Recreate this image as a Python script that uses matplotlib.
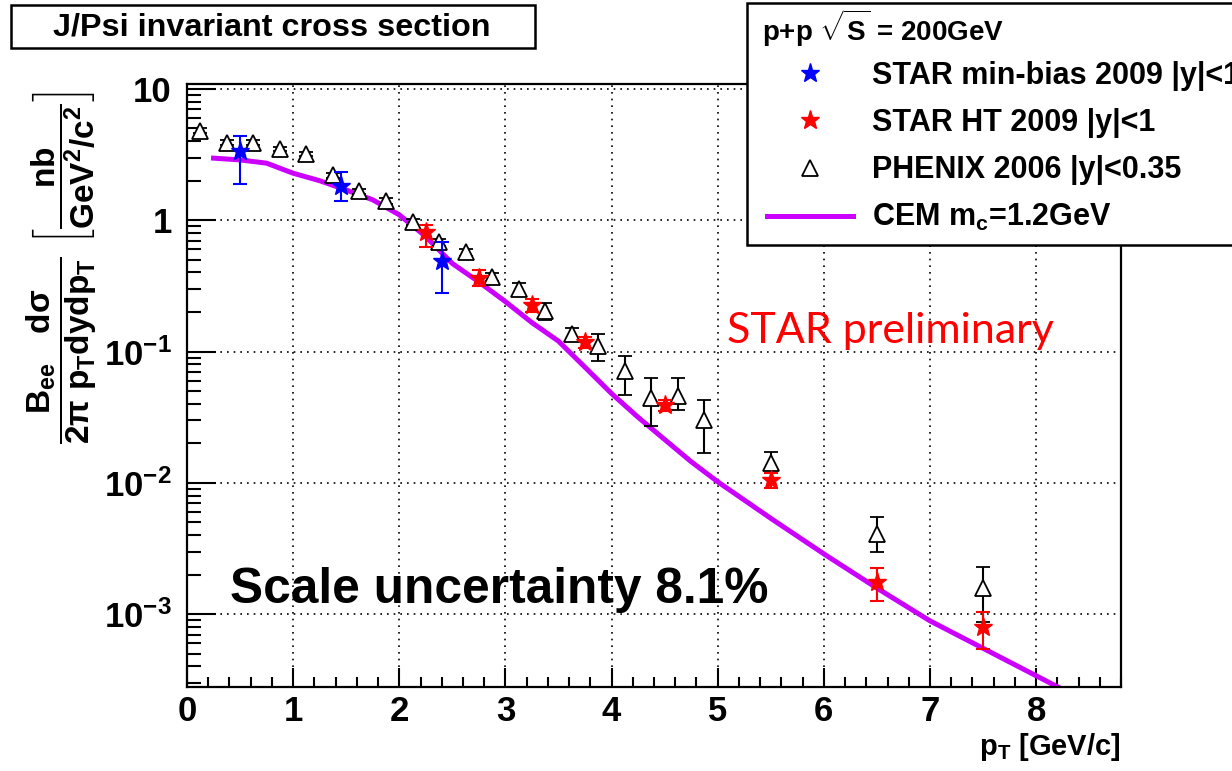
import numpy as np
import matplotlib
matplotlib.use("Agg")
import matplotlib.pyplot as plt
from matplotlib.ticker import MultipleLocator, LogLocator, FixedLocator, FixedFormatter, NullFormatter
from matplotlib.patches import Rectangle
from matplotlib.lines import Line2D

plt.rcParams['font.family'] = ['Liberation Sans', 'DejaVu Sans']
plt.rcParams['font.weight'] = 'bold'
plt.rcParams['mathtext.fontset'] = 'custom'
plt.rcParams['mathtext.rm'] = 'Liberation Sans:bold'
plt.rcParams['mathtext.it'] = 'Liberation Sans:bold'
plt.rcParams['mathtext.bf'] = 'Liberation Sans:bold'
plt.rcParams['mathtext.default'] = 'rm'

# PHENIX 2006 |y|<0.35
phenix_pt = [0.125, 0.375, 0.625, 0.875, 1.125, 1.375, 1.625, 1.875, 2.125, 2.375, 2.625,
             2.875, 3.125, 3.375, 3.625, 3.875, 4.125, 4.375, 4.625, 4.875, 5.5, 6.5, 7.5]
phenix_y = [4.8, 3.9, 3.9, 3.5, 3.2, 2.2, 1.66, 1.40, 0.97, 0.68, 0.57,
            0.37, 0.30, 0.203, 0.135, 0.11, 0.071, 0.044, 0.046, 0.030, 0.0141, 0.0041, 0.00157]
phenix_lo = [0.2, 0.15, 0.15, 0.13, 0.12, 0.1, 0.08, 0.07, 0.05, 0.04, 0.035,
             0.025, 0.03, 0.03, 0.015, 0.026, 0.024, 0.017, 0.010, 0.013, 0.0022, 0.0011, 0.0007]
phenix_hi = [0.2, 0.15, 0.15, 0.13, 0.12, 0.1, 0.08, 0.07, 0.05, 0.04, 0.035,
             0.025, 0.03, 0.03, 0.015, 0.025, 0.021, 0.019, 0.017, 0.013, 0.0032, 0.0014, 0.0007]

# STAR min-bias 2009 |y|<1
mb_pt = [0.5, 1.45, 2.4]
mb_y = [3.38, 1.83, 0.49]
mb_lo = [1.5, 0.43, 0.21]
mb_hi = [1.0, 0.48, 0.19]

# STAR HT 2009 |y|<1
ht_pt = [2.25, 2.75, 3.25, 3.75, 4.5, 5.5, 6.5, 7.5]
ht_y = [0.82, 0.365, 0.225, 0.118, 0.039, 0.0105, 0.00176, 0.0008]
ht_lo = [0.19, 0.05, 0.025, 0.012, 0.004, 0.0014, 0.0005, 0.00026]
ht_hi = [0.10, 0.05, 0.025, 0.012, 0.004, 0.0014, 0.0005, 0.00024]

# CEM m_c=1.2GeV
cem_pt = [0.25, 0.5, 0.75, 1.0, 1.25, 1.5, 1.75, 2.0, 2.25, 2.5, 2.75, 3.0, 3.25, 3.5,
          3.75, 4.0, 4.25, 4.5, 4.75, 5.0, 5.5, 6.0, 6.5, 7.0, 7.5, 8.0, 8.22]
cem_y = [2.97, 2.88, 2.72, 2.28, 2.00, 1.70, 1.43, 1.10, 0.75, 0.468, 0.339, 0.240, 0.166, 0.120,
         0.0759, 0.0479, 0.0316, 0.0214, 0.0145, 0.0102, 0.00537, 0.00288, 0.00158, 0.00089,
         0.00055, 0.00034, 0.000275]

ytick_vals = [1e-3, 1e-2, 1e-1, 1, 10]
ytick_labels = [r'$10^{-3}$', r'$10^{-2}$', r'$10^{-1}$', '1', '10']

W, H = 1232, 771
fig = plt.figure(figsize=(W / 100, H / 100), dpi=100)
ax = fig.add_axes([187 / W, 1 - 687 / H, (1121 - 187) / W, (687 - 84) / H])

purple = '#cc00ff'
ax.plot(cem_pt, cem_y, color=purple, lw=3.6, zorder=2)
ax.errorbar(phenix_pt, phenix_y, yerr=[phenix_lo, phenix_hi], fmt='^', ms=12, mfc='white',
            mec='black', mew=1.3, ecolor='black', elinewidth=1.5, capsize=5, capthick=1.5, zorder=3)
ax.errorbar(ht_pt, ht_y, yerr=[ht_lo, ht_hi], fmt='*', ms=14, color='#ff0000',
            elinewidth=1.5, capsize=5, capthick=1.5, zorder=4)
ax.errorbar(mb_pt, mb_y, yerr=[mb_lo, mb_hi], fmt='*', ms=14, color='#0000ff',
            elinewidth=1.5, capsize=5, capthick=1.5, zorder=4)

ax.set_yscale('log')
ax.set_xlim(0, 8.8)
ax.set_ylim(2.79e-4, 10.9)

ax.xaxis.set_major_locator(MultipleLocator(1))
ax.xaxis.set_minor_locator(MultipleLocator(0.2))
ax.yaxis.set_major_locator(FixedLocator(ytick_vals))
ax.yaxis.set_major_formatter(FixedFormatter(ytick_labels))
ax.yaxis.set_minor_locator(LogLocator(base=10, subs=np.arange(2, 10)))
ax.yaxis.set_minor_formatter(NullFormatter())

ax.tick_params(axis='both', which='both', direction='in', top=False, right=False,
               width=1.5, colors='black', labelsize=25)
ax.tick_params(axis='y', which='major', length=21, pad=11)
ax.tick_params(axis='y', which='minor', length=10)
ax.tick_params(axis='x', which='major', length=14, pad=6)
ax.tick_params(axis='x', which='minor', length=7)
for lab in ax.get_xticklabels() + ax.get_yticklabels():
    lab.set_fontweight('bold')

ax.grid(True, which='major', color='black', linestyle=(0, (1, 3)), lw=1.2)
for s in ax.spines.values():
    s.set_linewidth(1.6)

ax.set_xlabel(r'p$_T$ [GeV/c]', fontsize=21, fontweight='bold', loc='right', labelpad=2)

fig.text(62 / W, 1 - 268 / H,
         r'$\dfrac{B_{ee}\ \ \ d\sigma}{2\pi\ p_T dydp_T}\ \left[\dfrac{nb}{GeV^2/c^2}\right]$',
         rotation=90, ha='center', va='center', fontsize=24)

# title box
fig.patches.append(Rectangle((11 / W, 1 - 48 / H), 524 / W, 43 / H, transform=fig.transFigure,
                             fc='white', ec='black', lw=1.8))
fig.text(272 / W, 1 - 27 / H, 'J/Psi invariant cross section', ha='center', va='center',
         fontsize=23.3, fontweight='bold')

ax.text(0.578, 0.570, 'STAR preliminary', transform=ax.transAxes, color='#ff0000',
        fontsize=31, fontfamily='Lato', fontweight='normal', ha='left', va='baseline')
ax.text(0.046, 0.139, 'Scale uncertainty 8.1%', transform=ax.transAxes, color='black',
        fontsize=35.7, fontweight='bold', ha='left', va='baseline')

# legend box (runs past the right edge of the canvas)
fig.patches.append(Rectangle((747 / W, 1 - 245 / H), 500 / W, 242 / H, transform=fig.transFigure,
                             fc='white', ec='black', lw=1.8, zorder=5))
fig.text(762 / W, 1 - 28 / H, r'p+p $\sqrt{S}$ = 200GeV', ha='left', va='center',
         fontsize=20, fontweight='bold', zorder=6)

handles = [
    Line2D([], [], ls='none', marker='*', ms=14, color='#0000ff'),
    Line2D([], [], ls='none', marker='*', ms=14, color='#ff0000'),
    Line2D([], [], ls='none', marker='^', ms=12, mfc='white', mec='black', mew=1.3),
    Line2D([], [], color=purple, lw=3.6),
]
labels = ['STAR min-bias 2009 |y|<1', 'STAR HT 2009 |y|<1', 'PHENIX 2006 |y|<0.35',
          r'CEM m$_c$=1.2GeV']
leg = fig.legend(handles, labels, loc='upper left', bbox_to_anchor=(767 / W, 1 - 61 / H),
                 bbox_transform=fig.transFigure, frameon=False,
                 fontsize=22, handlelength=2.81, handletextpad=0.62,
                 labelspacing=0.56, borderpad=0, borderaxespad=0)
leg.set_zorder(7)

fig.savefig('out.png', dpi=100)
